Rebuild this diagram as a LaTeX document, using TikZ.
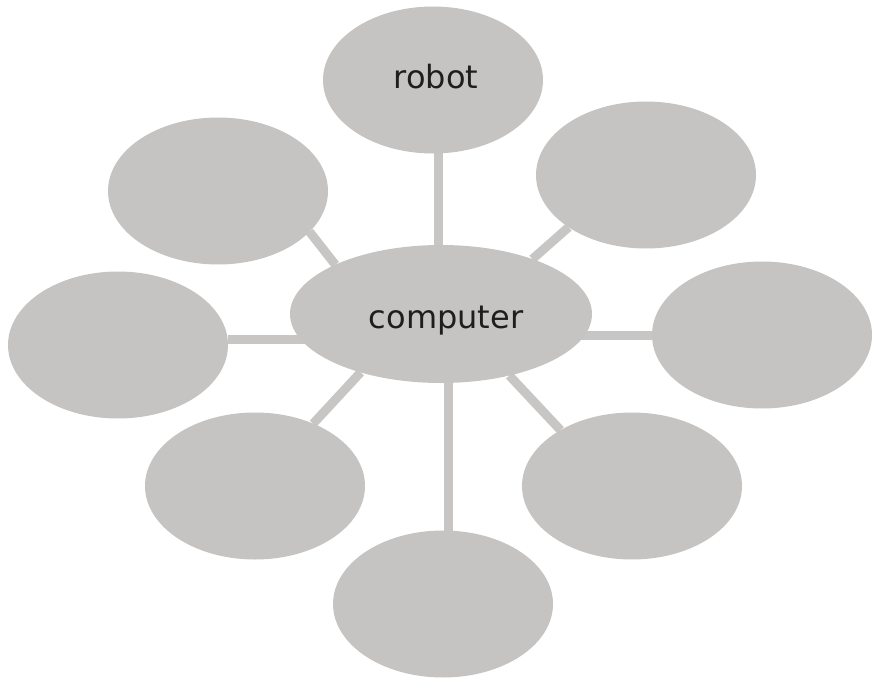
\documentclass[tikz,border=0pt]{standalone}
\usepackage{fontspec}
\setmainfont{DejaVu Sans}
\usetikzlibrary{shapes.geometric,backgrounds}
\definecolor{bubble}{RGB}{198,196,194}
\definecolor{linkgrey}{RGB}{200,198,196}
\definecolor{ink}{RGB}{30,30,30}
\tikzset{
  bubble/.style={ellipse, fill=bubble, draw=none, inner sep=0pt, outer sep=0pt,
    minimum width=220pt, minimum height=147pt},
  hub/.style={bubble, minimum width=302pt, minimum height=138pt},
  conn/.style={draw=linkgrey, line width=9pt},
  word/.style={text=ink, font=\fontsize{32pt}{36pt}\selectfont, inner sep=0pt, anchor=base}
}
\begin{document}
\begin{tikzpicture}[x=1pt,y=-1pt]
\useasboundingbox (0,0) rectangle (876,688);
\node[hub] (comp) at (441,314) {};
\node[bubble] (robot) at (433,80) {};
\node[bubble] (tl) at (218,191) {};
\node[bubble] (tr) at (646,175) {};
\node[bubble] (l) at (118,345) {};
\node[bubble] (r) at (762,335) {};
\node[bubble] (bl) at (255,486) {};
\node[bubble] (br) at (632,486) {};
\node[bubble] (b) at (443,604) {};
\node[word] (trobot) at (436,88) {robot};
\node[word] (tcomp) at (446,328) {computer};
\begin{scope}[on background layer]
  \draw[conn] (robot.-86) -- (robot.-86 |- comp.center);
  \draw[conn] (b.86) -- (b.86 |- comp.center);
  \draw[conn] (l.3) -- (l.3 -| comp.center);
  \draw[conn] (r.west) -- (r.west -| comp.center);
  \draw[conn] (tl.-24) -- (comp.155);
  \draw[conn] (tr.-146) -- (comp.31);
  \draw[conn] (bl.47) -- (comp.216);
  \draw[conn] (br.142) -- (comp.-42);
\end{scope}
\end{tikzpicture}
\end{document}
